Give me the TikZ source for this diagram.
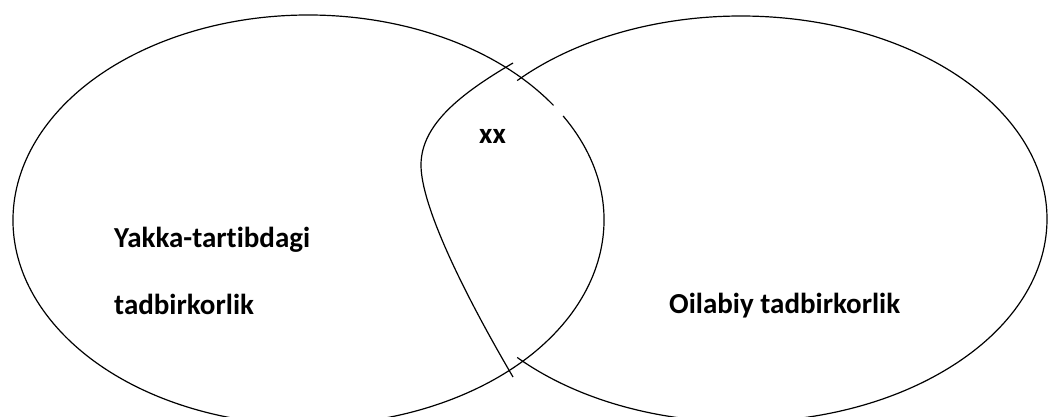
\documentclass[tikz,border=0pt]{standalone}
\usepackage{fontspec}
\setmainfont{Carlito}[Ligatures=NoCommon]
\usepackage{tikz}
\usetikzlibrary{positioning,calc}

\begin{document}
\begin{tikzpicture}[x=1pt, y=-1pt,
  vennline/.style={line width=1.2pt},
  venntext/.style={font=\fontsize{29}{35}\selectfont\bfseries, inner sep=0pt, anchor=base west}]
\useasboundingbox (0,0) rectangle (1048,416);

% Left set
\draw[vennline] (308.5,220) ++(-30.5:295.5 and 205)
  arc[start angle=-30.5, end angle=326, x radius=295.5, y radius=205];

% Right set
\draw[vennline] (741,219) ++(137:306 and 203)
  arc[start angle=137, end angle=-137, x radius=306, y radius=203];
\draw[vennline] (513,63) .. controls (460,94) and (421,125) .. (421,165)
  .. controls (421,205) and (462,290) .. (513,377);

% Labels
\node[venntext] (yakka) at (114,247) {Yakka-tartibdagi};
\node[venntext] (tadbir) at (114,314) {tadbirkorlik};
\node[venntext] (oilabiy) at (669,313) {Oilabiy tadbirkorlik};
\node[venntext] (common) at (479,143) {xx};

\end{tikzpicture}
\end{document}
